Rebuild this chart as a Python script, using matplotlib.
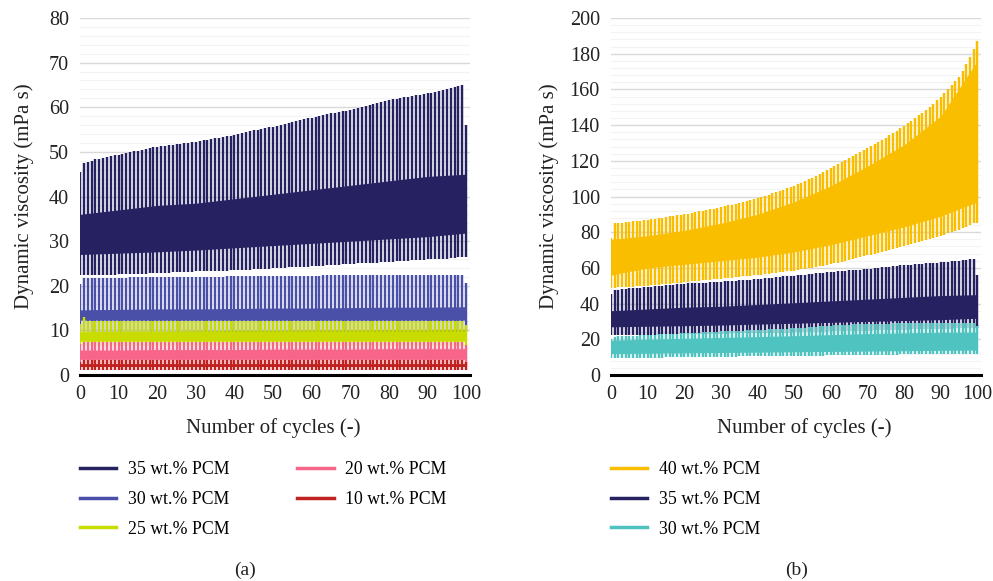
import numpy as np
import matplotlib
matplotlib.use("Agg")
import matplotlib.pyplot as plt
from matplotlib.lines import Line2D
from matplotlib.ticker import MultipleLocator

plt.rcParams['font.family'] = ['Liberation Serif', 'DejaVu Serif']

# peak viscosity of every cycle (cycle 0..100) and trough after each cycle (0..99)
peak_35 = [45.5, 47.4, 47.7, 48.0, 48.3, 48.5, 48.7, 48.9, 49.0, 49.2,
           49.3, 49.5, 49.7, 49.9, 50.1, 50.3, 50.5, 50.7, 50.9, 51.0,
           51.2, 51.3, 51.4, 51.5, 51.6, 51.7, 51.8, 51.9, 52.1, 52.2,
           52.3, 52.4, 52.6, 52.7, 52.9, 53.0, 53.2, 53.3, 53.5, 53.6,
           53.8, 54.0, 54.2, 54.4, 54.6, 54.8, 55.0, 55.2, 55.4, 55.5,
           55.6, 55.8, 56.0, 56.2, 56.5, 56.7, 56.9, 57.1, 57.3, 57.5,
           57.7, 57.9, 58.1, 58.2, 58.4, 58.6, 58.8, 58.9, 59.1, 59.2,
           59.4, 59.6, 59.8, 60.0, 60.3, 60.5, 60.7, 60.9, 61.2, 61.4,
           61.6, 61.8, 61.9, 62.1, 62.2, 62.4, 62.5, 62.7, 62.8, 63.0,
           63.1, 63.3, 63.5, 63.7, 63.9, 64.1, 64.3, 64.5, 64.8, 65.0,
           56.0]
trough_35 = [22.4, 22.4, 22.4, 22.4, 22.4, 22.5, 22.5, 22.5, 22.5, 22.5,
             22.6, 22.6, 22.6, 22.6, 22.7, 22.7, 22.7, 22.7, 22.8, 22.8,
             22.8, 22.9, 22.9, 22.9, 23.0, 23.0, 23.0, 23.1, 23.1, 23.1,
             23.2, 23.2, 23.2, 23.3, 23.3, 23.3, 23.4, 23.4, 23.4, 23.5,
             23.5, 23.5, 23.6, 23.6, 23.6, 23.7, 23.7, 23.7, 23.8, 23.8,
             23.9, 23.9, 24.0, 24.0, 24.1, 24.1, 24.2, 24.2, 24.3, 24.3,
             24.4, 24.4, 24.5, 24.5, 24.6, 24.6, 24.7, 24.7, 24.8, 24.8,
             24.9, 24.9, 25.0, 25.0, 25.1, 25.1, 25.2, 25.2, 25.3, 25.3,
             25.4, 25.4, 25.5, 25.5, 25.6, 25.6, 25.7, 25.7, 25.8, 25.8,
             25.9, 25.9, 26.0, 26.0, 26.1, 26.1, 26.2, 26.3, 26.4, 26.5]

peak_30a = [20.4, 21.8, 21.8, 21.8, 21.8, 21.8, 21.8, 21.8, 21.8, 21.8,
            21.8, 21.8, 21.8, 21.9, 21.9, 21.9, 21.9, 21.9, 21.9, 21.9,
            21.9, 21.9, 21.9, 21.9, 21.9, 21.9, 22.0, 22.0, 22.0, 22.0,
            22.0, 22.0, 22.0, 22.0, 22.0, 22.0, 22.0, 22.0, 22.1, 22.1,
            22.1, 22.1, 22.1, 22.1, 22.1, 22.1, 22.1, 22.1, 22.1, 22.1,
            22.1, 22.2, 22.2, 22.2, 22.2, 22.2, 22.2, 22.2, 22.2, 22.2,
            22.2, 22.2, 22.2, 22.3, 22.3, 22.3, 22.3, 22.3, 22.3, 22.3,
            22.3, 22.3, 22.3, 22.3, 22.3, 22.3, 22.4, 22.4, 22.4, 22.4,
            22.4, 22.4, 22.4, 22.4, 22.4, 22.4, 22.4, 22.4, 22.5, 22.5,
            22.5, 22.5, 22.5, 22.5, 22.5, 22.5, 22.5, 22.5, 22.5, 22.5,
            20.6]
trough_30a = [9.6, 9.6, 9.6, 9.6, 9.6, 9.6, 9.6, 9.6, 9.6, 9.6,
              9.6, 9.6, 9.6, 9.6, 9.6, 9.6, 9.6, 9.6, 9.6, 9.6,
              9.6, 9.6, 9.6, 9.6, 9.6, 9.6, 9.6, 9.6, 9.6, 9.6,
              9.6, 9.6, 9.6, 9.6, 9.6, 9.6, 9.6, 9.6, 9.6, 9.6,
              9.6, 9.6, 9.6, 9.6, 9.6, 9.6, 9.6, 9.6, 9.6, 9.6,
              9.6, 9.6, 9.6, 9.6, 9.6, 9.6, 9.6, 9.6, 9.6, 9.6,
              9.6, 9.6, 9.6, 9.6, 9.6, 9.6, 9.6, 9.6, 9.6, 9.6,
              9.6, 9.6, 9.6, 9.6, 9.6, 9.6, 9.6, 9.6, 9.6, 9.6,
              9.6, 9.6, 9.6, 9.6, 9.6, 9.6, 9.6, 9.6, 9.6, 9.6,
              9.6, 9.6, 9.6, 9.6, 9.6, 9.6, 9.6, 9.6, 9.6, 9.6]

peak_25 = [11.5, 13.0, 12.1, 12.1, 12.1, 12.1, 12.1, 12.1, 12.1, 12.1,
           12.1, 12.1, 12.1, 12.1, 12.1, 12.1, 12.1, 12.1, 12.1, 12.1,
           12.1, 12.1, 12.1, 12.1, 12.1, 12.1, 12.1, 12.1, 12.1, 12.1,
           12.1, 12.1, 12.1, 12.1, 12.1, 12.1, 12.1, 12.1, 12.1, 12.1,
           12.1, 12.1, 12.1, 12.1, 12.1, 12.1, 12.1, 12.1, 12.1, 12.1,
           12.1, 12.2, 12.2, 12.2, 12.2, 12.2, 12.2, 12.2, 12.2, 12.2,
           12.2, 12.2, 12.2, 12.2, 12.2, 12.2, 12.2, 12.2, 12.2, 12.2,
           12.2, 12.2, 12.2, 12.2, 12.2, 12.2, 12.2, 12.2, 12.2, 12.2,
           12.2, 12.2, 12.2, 12.2, 12.2, 12.2, 12.2, 12.2, 12.2, 12.2,
           12.2, 12.2, 12.2, 12.2, 12.2, 12.2, 12.2, 12.2, 12.2, 12.2,
           11.3]
trough_25 = [6.5, 6.5, 6.5, 6.5, 6.5, 6.5, 6.5, 6.5, 6.5, 6.5,
             6.5, 6.5, 6.5, 6.5, 6.5, 6.5, 6.5, 6.5, 6.5, 6.5,
             6.5, 6.5, 6.5, 6.5, 6.5, 6.5, 6.5, 6.5, 6.5, 6.5,
             6.5, 6.5, 6.5, 6.5, 6.5, 6.5, 6.5, 6.5, 6.5, 6.5,
             6.5, 6.5, 6.5, 6.5, 6.5, 6.5, 6.5, 6.5, 6.5, 6.5,
             6.5, 6.5, 6.5, 6.5, 6.5, 6.5, 6.5, 6.5, 6.5, 6.5,
             6.5, 6.5, 6.5, 6.5, 6.5, 6.5, 6.5, 6.5, 6.5, 6.5,
             6.5, 6.5, 6.5, 6.5, 6.5, 6.5, 6.5, 6.5, 6.5, 6.5,
             6.5, 6.5, 6.5, 6.5, 6.5, 6.5, 6.5, 6.5, 6.5, 6.5,
             6.5, 6.5, 6.5, 6.5, 6.5, 6.5, 6.5, 6.5, 6.5, 6.5]

peak_20 = [6.9, 7.5, 7.5, 7.5, 7.5, 7.5, 7.5, 7.5, 7.5, 7.5,
           7.5, 7.5, 7.5, 7.5, 7.5, 7.5, 7.5, 7.5, 7.5, 7.5,
           7.5, 7.5, 7.5, 7.5, 7.5, 7.5, 7.5, 7.5, 7.5, 7.5,
           7.5, 7.5, 7.5, 7.5, 7.5, 7.5, 7.5, 7.5, 7.5, 7.5,
           7.5, 7.5, 7.5, 7.5, 7.5, 7.5, 7.5, 7.5, 7.5, 7.5,
           7.5, 7.5, 7.5, 7.5, 7.5, 7.5, 7.5, 7.5, 7.5, 7.5,
           7.5, 7.5, 7.5, 7.5, 7.5, 7.5, 7.5, 7.5, 7.5, 7.5,
           7.5, 7.5, 7.5, 7.5, 7.5, 7.5, 7.5, 7.5, 7.5, 7.5,
           7.5, 7.5, 7.5, 7.5, 7.5, 7.5, 7.5, 7.5, 7.5, 7.5,
           7.5, 7.5, 7.5, 7.5, 7.5, 7.5, 7.5, 7.5, 7.5, 7.5,
           6.8]
trough_20 = [2.3, 2.3, 2.3, 2.3, 2.3, 2.3, 2.3, 2.3, 2.3, 2.3,
             2.3, 2.3, 2.3, 2.3, 2.3, 2.3, 2.3, 2.3, 2.3, 2.3,
             2.3, 2.3, 2.3, 2.3, 2.3, 2.3, 2.3, 2.3, 2.3, 2.3,
             2.3, 2.3, 2.3, 2.3, 2.3, 2.3, 2.3, 2.3, 2.3, 2.3,
             2.3, 2.3, 2.3, 2.3, 2.3, 2.3, 2.3, 2.3, 2.3, 2.3,
             2.3, 2.3, 2.3, 2.3, 2.3, 2.3, 2.3, 2.3, 2.3, 2.3,
             2.3, 2.3, 2.3, 2.3, 2.3, 2.3, 2.3, 2.3, 2.3, 2.3,
             2.3, 2.3, 2.3, 2.3, 2.3, 2.3, 2.3, 2.3, 2.3, 2.3,
             2.3, 2.3, 2.3, 2.3, 2.3, 2.3, 2.3, 2.3, 2.3, 2.3,
             2.3, 2.3, 2.3, 2.3, 2.3, 2.3, 2.3, 2.3, 2.3, 2.3]

peak_10 = [3.0, 3.4, 3.4, 3.4, 3.4, 3.4, 3.4, 3.4, 3.4, 3.4,
           3.4, 3.4, 3.4, 3.4, 3.4, 3.4, 3.4, 3.4, 3.4, 3.4,
           3.4, 3.4, 3.4, 3.4, 3.4, 3.4, 3.4, 3.4, 3.4, 3.4,
           3.4, 3.4, 3.4, 3.4, 3.4, 3.4, 3.4, 3.4, 3.4, 3.4,
           3.4, 3.4, 3.4, 3.4, 3.4, 3.4, 3.4, 3.4, 3.4, 3.4,
           3.4, 3.4, 3.4, 3.4, 3.4, 3.4, 3.4, 3.4, 3.4, 3.4,
           3.4, 3.4, 3.4, 3.4, 3.4, 3.4, 3.4, 3.4, 3.4, 3.4,
           3.4, 3.4, 3.4, 3.4, 3.4, 3.4, 3.4, 3.4, 3.4, 3.4,
           3.4, 3.4, 3.4, 3.4, 3.4, 3.4, 3.4, 3.4, 3.4, 3.4,
           3.4, 3.4, 3.4, 3.4, 3.4, 3.4, 3.4, 3.4, 3.4, 3.4,
           3.0]
trough_10 = [1.1, 1.1, 1.1, 1.1, 1.1, 1.1, 1.1, 1.1, 1.1, 1.1,
             1.1, 1.1, 1.1, 1.1, 1.1, 1.1, 1.1, 1.1, 1.1, 1.1,
             1.1, 1.1, 1.1, 1.1, 1.1, 1.1, 1.1, 1.1, 1.1, 1.1,
             1.1, 1.1, 1.1, 1.1, 1.1, 1.1, 1.1, 1.1, 1.1, 1.1,
             1.1, 1.1, 1.1, 1.1, 1.1, 1.1, 1.1, 1.1, 1.1, 1.1,
             1.1, 1.1, 1.1, 1.1, 1.1, 1.1, 1.1, 1.1, 1.1, 1.1,
             1.1, 1.1, 1.1, 1.1, 1.1, 1.1, 1.1, 1.1, 1.1, 1.1,
             1.1, 1.1, 1.1, 1.1, 1.1, 1.1, 1.1, 1.1, 1.1, 1.1,
             1.1, 1.1, 1.1, 1.1, 1.1, 1.1, 1.1, 1.1, 1.1, 1.1,
             1.1, 1.1, 1.1, 1.1, 1.1, 1.1, 1.1, 1.1, 1.1, 1.1]

peak_40 = [77.0, 85.0, 85.2, 85.4, 85.6, 85.8, 86.0, 86.2, 86.5, 86.7,
           87.0, 87.3, 87.6, 87.9, 88.2, 88.5, 88.8, 89.1, 89.4, 89.7,
           90.0, 90.4, 90.8, 91.2, 91.6, 92.0, 92.4, 92.8, 93.2, 93.6,
           94.0, 94.5, 95.0, 95.5, 96.0, 96.5, 97.0, 97.5, 98.0, 98.5,
           99.0, 99.7, 100.4, 101.1, 101.8, 102.5, 103.2, 103.9, 104.6, 105.3,
           106.0, 106.9, 107.8, 108.7, 109.6, 110.5, 111.6, 112.7, 113.8, 114.9,
           116.0, 117.1, 118.2, 119.3, 120.4, 121.5, 122.6, 123.7, 124.8, 125.9,
           127.0, 128.2, 129.4, 130.6, 131.8, 133.0, 134.3, 135.6, 136.9, 138.2,
           139.5, 141.0, 142.5, 144.0, 145.5, 147.0, 148.7, 150.4, 152.1, 153.8,
           155.5, 157.8, 160.1, 162.4, 164.7, 167.0, 170.5, 174.0, 178.0, 182.5,
           187.0]
trough_40 = [48.8, 49.0, 49.1, 49.2, 49.3, 49.4, 49.5, 49.6, 49.8, 49.9,
             50.0, 50.2, 50.4, 50.6, 50.8, 51.0, 51.2, 51.4, 51.6, 51.8,
             52.0, 52.2, 52.4, 52.6, 52.8, 53.0, 53.2, 53.4, 53.6, 53.8,
             54.0, 54.2, 54.4, 54.6, 54.8, 55.0, 55.2, 55.4, 55.6, 55.8,
             56.0, 56.2, 56.5, 56.7, 57.0, 57.2, 57.5, 57.7, 58.0, 58.2,
             58.5, 58.8, 59.2, 59.5, 59.9, 60.2, 60.6, 60.9, 61.3, 61.6,
             62.0, 62.5, 63.0, 63.5, 64.0, 64.5, 65.0, 65.5, 66.0, 66.5,
             67.0, 67.5, 68.0, 68.5, 69.0, 69.5, 70.0, 70.5, 71.0, 71.5,
             72.0, 72.6, 73.2, 73.8, 74.4, 75.0, 75.6, 76.2, 76.8, 77.4,
             78.0, 78.7, 79.4, 80.1, 80.8, 81.5, 82.2, 82.9, 83.8, 85.0]

peak_30b = [20.0, 21.5, 21.6, 21.7, 21.8, 21.9, 22.0, 22.1, 22.2, 22.3,
            22.4, 22.5, 22.6, 22.7, 22.8, 22.9, 23.0, 23.1, 23.2, 23.3,
            23.4, 23.5, 23.6, 23.7, 23.8, 23.9, 24.0, 24.1, 24.2, 24.3,
            24.4, 24.5, 24.5, 24.6, 24.7, 24.8, 24.9, 25.0, 25.0, 25.1,
            25.2, 25.3, 25.4, 25.5, 25.6, 25.7, 25.8, 25.9, 26.0, 26.1,
            26.2, 26.3, 26.5, 26.6, 26.8, 26.9, 27.1, 27.2, 27.4, 27.5,
            27.7, 27.8, 27.9, 28.0, 28.1, 28.2, 28.3, 28.4, 28.5, 28.5,
            28.6, 28.6, 28.7, 28.7, 28.8, 28.8, 28.8, 28.9, 28.9, 28.9,
            29.0, 29.0, 29.0, 29.1, 29.1, 29.1, 29.1, 29.2, 29.2, 29.2,
            29.2, 29.3, 29.3, 29.3, 29.3, 29.4, 29.4, 29.4, 29.4, 29.4,
            27.5]
trough_30b = [9.5, 9.5, 9.5, 9.6, 9.6, 9.6, 9.6, 9.7, 9.7, 9.7,
              9.7, 9.8, 9.8, 9.8, 9.8, 9.9, 9.9, 9.9, 9.9, 10.0,
              10.0, 10.0, 10.0, 10.1, 10.1, 10.1, 10.1, 10.2, 10.2, 10.2,
              10.2, 10.3, 10.3, 10.3, 10.3, 10.4, 10.4, 10.4, 10.4, 10.5,
              10.5, 10.5, 10.5, 10.6, 10.6, 10.6, 10.6, 10.7, 10.7, 10.7,
              10.7, 10.8, 10.8, 10.8, 10.8, 10.9, 10.9, 10.9, 10.9, 11.0,
              11.0, 11.0, 11.0, 11.1, 11.1, 11.1, 11.1, 11.2, 11.2, 11.2,
              11.2, 11.3, 11.3, 11.3, 11.3, 11.4, 11.4, 11.4, 11.4, 11.5,
              11.5, 11.5, 11.5, 11.6, 11.6, 11.6, 11.6, 11.7, 11.7, 11.7,
              11.7, 11.8, 11.8, 11.8, 11.8, 11.9, 11.9, 11.9, 11.9, 12.0]

# dense middle band of each signal (low edge, high edge), read every 10 cycles
band_cycles = [0, 10, 20, 30, 40, 50, 60, 70, 80, 90, 100]
band_35 = ([27.0, 27.3, 27.6, 28.0, 28.5, 29.0, 29.5, 30.0, 30.5, 31.0, 31.8],
           [36.0, 37.0, 38.0, 38.5, 39.5, 40.5, 41.5, 42.5, 43.5, 44.5, 45.0])
band_30a = ([12.3, 12.3, 12.3, 12.3, 12.3, 12.3, 12.3, 12.3, 12.3, 12.3, 12.3],
            [14.6, 14.7, 14.8, 14.8, 14.9, 15.0, 15.0, 15.1, 15.2, 15.2, 15.3])
band_25 = ([7.6, 7.6, 7.6, 7.6, 7.6, 7.6, 7.6, 7.6, 7.6, 7.6, 7.6],
           [9.7, 9.8, 9.8, 9.9, 10.0, 10.0, 10.1, 10.1, 10.2, 10.2, 10.3])
band_20 = ([3.5, 3.5, 3.5, 3.5, 3.5, 3.5, 3.5, 3.5, 3.5, 3.5, 3.5],
           [5.6, 5.6, 5.7, 5.7, 5.7, 5.8, 5.8, 5.8, 5.9, 5.9, 5.9])
band_10 = ([1.7, 1.7, 1.7, 1.7, 1.7, 1.7, 1.7, 1.7, 1.7, 1.7, 1.7],
           [2.4, 2.4, 2.4, 2.4, 2.4, 2.4, 2.4, 2.4, 2.4, 2.4, 2.4])
band_40 = ([56.0, 60.0, 62.0, 64.0, 66.0, 69.0, 73.0, 78.0, 83.0, 89.0, 97.0],
           [76.0, 78.0, 81.0, 85.0, 90.0, 97.0, 106.0, 117.0, 129.0, 145.0, 176.0])
band_30b = ([12.0, 12.2, 12.4, 12.6, 12.8, 13.0, 13.2, 13.4, 13.6, 13.8, 14.0],
            [19.5, 20.0, 20.5, 21.0, 21.5, 22.0, 22.6, 23.2, 23.6, 23.9, 24.0])

navy = '#262262'
blue = '#4a4fa8'
lime = '#c8dc00'
pink = '#f7668a'
red = '#c0221f'
gold = '#f9be00'
teal = '#4fc3c0'


def draw_cycles(ax, peaks, troughs, band, color):
    # one bar per cycle from its trough to its peak, plus the dense middle band
    cycles = np.arange(len(peaks))
    lows = list(troughs) + [troughs[-1]]
    ax.fill_between(band_cycles, band[0], band[1], color=color, lw=0)
    ax.vlines(cycles, lows, peaks, color=color, lw=1.75)


def style_axes(ax, ymax, ystep, yminor):
    ax.set_xlim(0, 101)
    ax.set_ylim(0, ymax)
    ax.set_xticks(range(0, 101, 10))
    ax.set_yticks(np.arange(0, ymax + 1, ystep))
    ax.yaxis.set_minor_locator(MultipleLocator(yminor))
    ax.grid(axis='y', which='major', color='#d9d9d9', lw=1.0)
    ax.grid(axis='y', which='minor', color='#f3f3f3', lw=0.8)
    ax.set_axisbelow(True)
    for side in ['left', 'top', 'right']:
        ax.spines[side].set_visible(False)
    ax.spines['bottom'].set_color('black')
    ax.spines['bottom'].set_linewidth(2.2)
    ax.spines['bottom'].set_zorder(5)
    ax.tick_params(which='both', length=0, labelsize=14.5, colors='#222222')
    ax.tick_params(axis='y', pad=8)
    ax.tick_params(axis='x', pad=7)


fig = plt.figure(figsize=(9.93, 5.81), dpi=100)
ax1 = fig.add_axes([80 / 993, 1 - 375 / 581, 390 / 993, 357 / 581])
ax2 = fig.add_axes([611 / 993, 1 - 375 / 581, 370 / 993, 357 / 581])

draw_cycles(ax1, peak_35, trough_35, band_35, navy)
draw_cycles(ax1, peak_30a, trough_30a, band_30a, blue)
draw_cycles(ax1, peak_25, trough_25, band_25, lime)
draw_cycles(ax1, peak_20, trough_20, band_20, pink)
draw_cycles(ax1, peak_10, trough_10, band_10, red)
style_axes(ax1, 80, 10, 2)

draw_cycles(ax2, peak_40, trough_40, band_40, gold)
draw_cycles(ax2, peak_35, trough_35, band_35, navy)
draw_cycles(ax2, peak_30b, trough_30b, band_30b, teal)
style_axes(ax2, 200, 20, 4)

# axis titles
fig.text(24 / 993, 1 - 196 / 581, 'Dynamic viscosity (mPa s)', rotation=90,
         ha='center', va='center', fontsize=15, color='#222222')
fig.text(549 / 993, 1 - 196 / 581, 'Dynamic viscosity (mPa s)', rotation=90,
         ha='center', va='center', fontsize=15, color='#222222')
fig.text(273 / 993, 1 - 428 / 581, 'Number of cycles (-)',
         ha='center', va='center', fontsize=15, color='#222222')
fig.text(804 / 993, 1 - 428 / 581, 'Number of cycles (-)',
         ha='center', va='center', fontsize=15, color='#222222')


# legends
def handles(colors, labels):
    return [Line2D([], [], color=c, lw=2.5, label=l) for c, l in zip(colors, labels)]


leg_kw = dict(loc='upper left', bbox_transform=fig.transFigure, frameon=False,
              fontsize=12.8, handlelength=2.05, handletextpad=0.65,
              labelspacing=0.72, borderpad=0, borderaxespad=0)
h1 = handles([navy, blue, lime, pink, red],
             ['35 wt.% PCM', '30 wt.% PCM', '25 wt.% PCM', '20 wt.% PCM', '10 wt.% PCM'])
fig.legend(handles=h1, ncol=2, columnspacing=3.8,
           bbox_to_anchor=(80 / 993, 1 - 461 / 581), **leg_kw)
h2 = handles([gold, navy, teal], ['40 wt.% PCM', '35 wt.% PCM', '30 wt.% PCM'])
fig.legend(handles=h2, ncol=1,
           bbox_to_anchor=(611 / 993, 1 - 461 / 581), **leg_kw)

fig.text(245 / 993, 1 - 570 / 581, '(a)', ha='center', va='center', fontsize=14, color='#222222')
fig.text(797 / 993, 1 - 570 / 581, '(b)', ha='center', va='center', fontsize=14, color='#222222')

fig.savefig('out.png', dpi=100)
